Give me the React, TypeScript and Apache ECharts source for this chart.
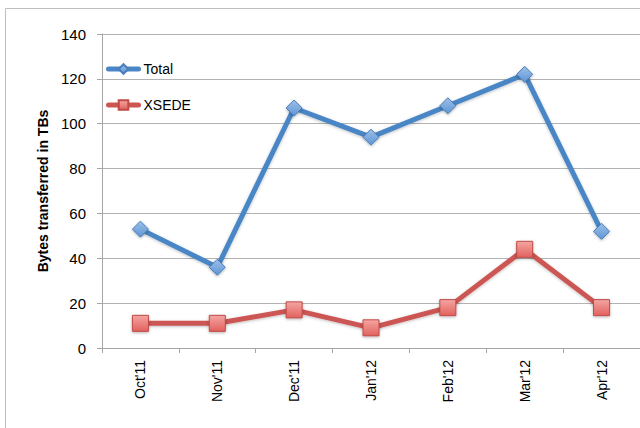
import React, { useEffect, useRef } from "react";
import * as echarts from "echarts";

const categories = ["Oct'11", "Nov'11", "Dec'11", "Jan'12", "Feb'12", "Mar'12", "Apr'12"];
const totalValues = [53, 36, 107, 94, 108, 122, 52];
const xsedeValues = [11, 11, 17, 9, 18, 44, 18];
const yAxisName = "Bytes transferred in TBs";

export default function App() {
  const ref = useRef<HTMLDivElement>(null);
  useEffect(() => {
    const chart = echarts.init(ref.current!, null, { renderer: "svg" });
    const font = "Liberation Sans, Arial, sans-serif";
    chart.setOption({
      animation: false,
      backgroundColor: "#ffffff",
      textStyle: { fontFamily: font },
      graphic: [
        {
          type: "rect",
          shape: { x: 5.5, y: 8.5, width: 700, height: 500 },
          style: { fill: "none", stroke: "#bfbfbf", lineWidth: 1 },
          silent: true,
          z: -1,
        },
      ],
      legend: {
        orient: "vertical",
        left: 101,
        top: 57,
        itemGap: 22,
        itemWidth: 30,
        itemHeight: 12,
        lineStyle: { width: 5, cap: "round" },
        textStyle: { fontSize: 14, color: "#000", fontFamily: font },
        data: ["Total", "XSEDE"],
      },
      grid: { left: 102, top: 34, width: 542, height: 314 },
      xAxis: {
        type: "category",
        data: categories,
        boundaryGap: true,
        axisLine: { lineStyle: { color: "#a6a6a6", width: 1 } },
        axisTick: { show: true, length: 5, lineStyle: { color: "#a6a6a6" } },
        axisLabel: { rotate: 90, fontSize: 14, color: "#000", margin: 12, fontFamily: font },
      },
      yAxis: {
        type: "value",
        min: 0,
        max: 140,
        interval: 20,
        name: yAxisName,
        nameLocation: "middle",
        nameGap: 52,
        nameTextStyle: { fontSize: 14, fontWeight: "bold", color: "#000", fontFamily: font },
        axisLine: { show: true, lineStyle: { color: "#a6a6a6", width: 1 } },
        axisTick: { show: true, length: 5, lineStyle: { color: "#a6a6a6" } },
        axisLabel: { fontSize: 15, color: "#000", margin: 16, fontFamily: font },
        splitLine: { lineStyle: { color: "#b3b3b3", width: 1 } },
      },
      series: [
        {
          name: "Total",
          type: "line",
          data: totalValues,
          symbol: "diamond",
          symbolSize: 16,
          lineStyle: { color: "#4a86c5", width: 5, shadowColor: "rgba(0,0,0,0.25)", shadowBlur: 3, shadowOffsetY: 1 },
          itemStyle: {
            color: new echarts.graphic.LinearGradient(0, 0, 0, 1, [
              { offset: 0, color: "#9cc0ea" },
              { offset: 1, color: "#5f95d4" },
            ]),
            borderColor: "#4a7ebb",
            borderWidth: 1,
            shadowColor: "rgba(0,0,0,0.3)",
            shadowBlur: 3,
            shadowOffsetY: 1,
          },
          z: 3,
        },
        {
          name: "XSEDE",
          type: "line",
          data: xsedeValues,
          symbol: "rect",
          symbolSize: 16,
          lineStyle: { color: "#cc5652", width: 5, shadowColor: "rgba(0,0,0,0.25)", shadowBlur: 3, shadowOffsetY: 1 },
          itemStyle: {
            color: new echarts.graphic.LinearGradient(0, 0, 0, 1, [
              { offset: 0, color: "#f4a6a3" },
              { offset: 1, color: "#e2615d" },
            ]),
            borderColor: "#be4b48",
            borderWidth: 1,
            shadowColor: "rgba(0,0,0,0.3)",
            shadowBlur: 3,
            shadowOffsetY: 1,
          },
          z: 2,
        },
      ],
    });
    return () => chart.dispose();
  }, []);
  return (
    <div
      ref={ref}
      style={{ position: "fixed", left: 0, top: 0, width: 640, height: 428 }}
    />
  );
}
